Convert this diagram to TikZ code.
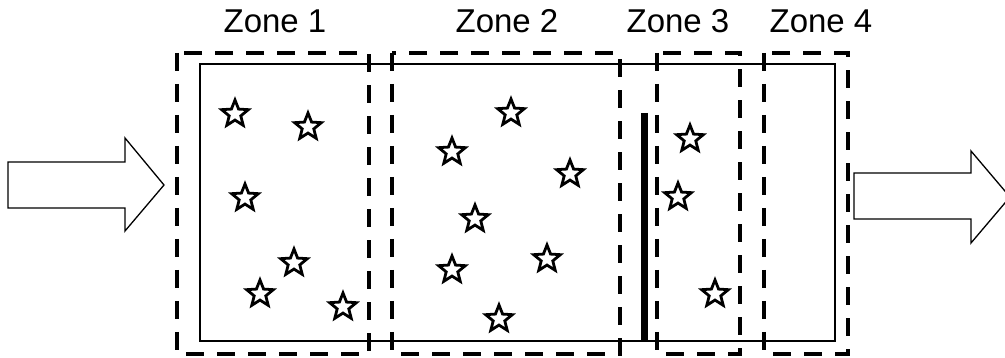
\documentclass[tikz,border=0pt]{standalone}
\usepackage{fontspec}
\setmainfont{Liberation Sans}
\usetikzlibrary{shapes.geometric}
\begin{document}
\begin{tikzpicture}[x=1pt,y=-1pt,
  zonebox/.style={draw, line width=4pt, dash pattern=on 18pt off 13pt},
  chamber/.style={draw, line width=2pt},
  bigarrow/.style={draw, line width=1.3pt, fill=white, line join=miter},
  particle/.style={star, star points=5, star point ratio=2.3, draw, fill=white, line width=2.8pt, minimum size=28pt, inner sep=0pt},
  zonelabel/.style={font=\fontsize{33}{40}\selectfont, anchor=base, inner sep=0pt}]
\useasboundingbox (0,0) rectangle (1005,358);
% chamber
\draw[chamber] (200,64) rectangle (835,341);
% zones
\draw[zonebox] (177,53) rectangle (369,354);
\draw[zonebox] (392,53) rectangle (620,354);
\draw[zonebox] (657,53) rectangle (740,354);
\draw[zonebox] (764,53) rectangle (848,354);
% baffle
\draw[line width=7pt] (644.5,113) -- (644.5,341);
% labels
\node[zonelabel] (z1) at (275,33) {Zone 1};
\node[zonelabel] (z2) at (507,33) {Zone 2};
\node[zonelabel] (z3) at (678,33) {Zone 3};
\node[zonelabel] (z4) at (821,33) {Zone 4};
% arrows
\draw[bigarrow] (8,162) -- (125,162) -- (125,138) -- (164,185) -- (125,231) -- (125,208) -- (8,208) -- cycle;
\draw[bigarrow] (854,173) -- (971,173) -- (971,151) -- (1010,197) -- (971,243) -- (971,219) -- (854,219) -- cycle;
% particles
\foreach \p/\q [count=\i] in {235/114,308/127,245/198,294/263,260/294,343/307,
  452/152,511/113,570/174,475/219,452/270,547/259,499/319,
  690/139,678/197,715/294}
  \node[particle] (s\i) at (\p,\q) {};
\end{tikzpicture}
\end{document}
